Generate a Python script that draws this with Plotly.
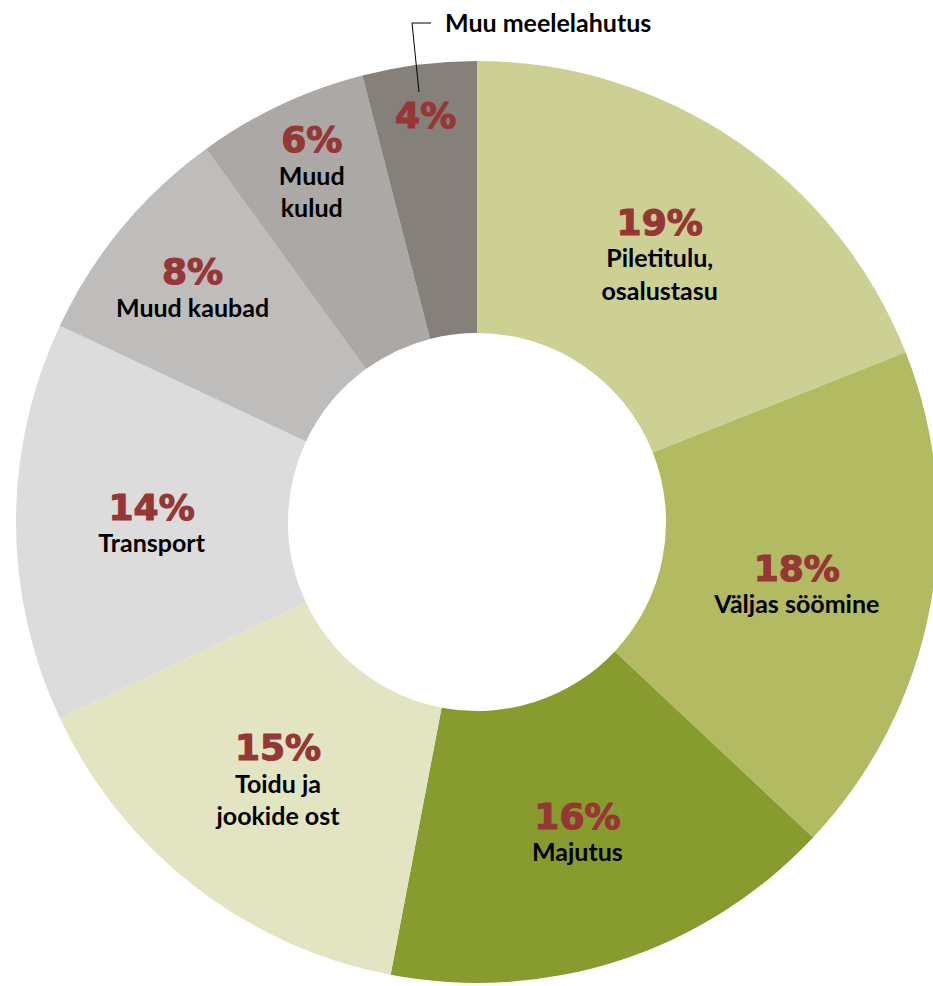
import plotly.graph_objects as go

categories = ["Piletitulu,<br>osalustasu", "Väljas söömine", "Majutus", "Toidu ja<br>jookide ost",
              "Transport", "Muud kaubad", "Muud<br>kulud", "Muu meelelahutus"]
values = [19, 18, 16, 15, 14, 8, 6, 4]
colors = ["#CCD193", "#B2BB62", "#889B2F", "#E3E5C2", "#DCDCDC", "#BFBDBB", "#ABA8A5", "#858079"]

W, H = 945, 994


def px(x):
    return x / W


def py(y):
    return 1 - y / H


cx, cy, R = 477, 522, 461

pct_style = ("font-family:DejaVu Sans;font-size:36px;color:#953735;"
             "stroke:#953735;stroke-width:1.2px")
templates = []
for i, c in enumerate(categories):
    if i == len(categories) - 1:
        templates.append(f"<span style='{pct_style}'><b>%{{percent:.0%}}</b></span>")
    else:
        templates.append(f"<span style='{pct_style}'><b>%{{percent:.0%}}</b></span><br><b>%{{label}}</b>")

fig = go.Figure(go.Pie(
    labels=categories,
    values=values,
    marker=dict(colors=colors, line=dict(width=0)),
    hole=0.41,
    sort=False,
    direction="clockwise",
    rotation=0,
    texttemplate=templates,
    textposition="inside",
    insidetextorientation="horizontal",
    textfont=dict(family="Lato", size=25, color="black"),
    domain=dict(x=[px(cx - R), px(cx + R)], y=[py(cy + R), py(cy - R)]),
    showlegend=False,
))

fig.add_annotation(
    x=px(443), y=py(22), xref="paper", yref="paper",
    text="<b>Muu meelelahutus</b>", showarrow=False,
    xanchor="left", yanchor="middle",
    font=dict(family="Lato", size=25, color="black"),
)
fig.add_shape(
    type="path", xref="paper", yref="paper",
    path=f"M {px(419)} {py(92)} L {px(412)} {py(23)} L {px(431)} {py(23)}",
    line=dict(color="black", width=1),
)

fig.update_layout(
    width=W, height=H,
    margin=dict(l=0, r=0, t=0, b=0),
    paper_bgcolor="white",
    plot_bgcolor="white",
)
fig.write_html(
    "out.html",
    config={"displayModeBar": False},
    post_script="document.body.style.margin='0';document.body.style.overflow='hidden';",
)
